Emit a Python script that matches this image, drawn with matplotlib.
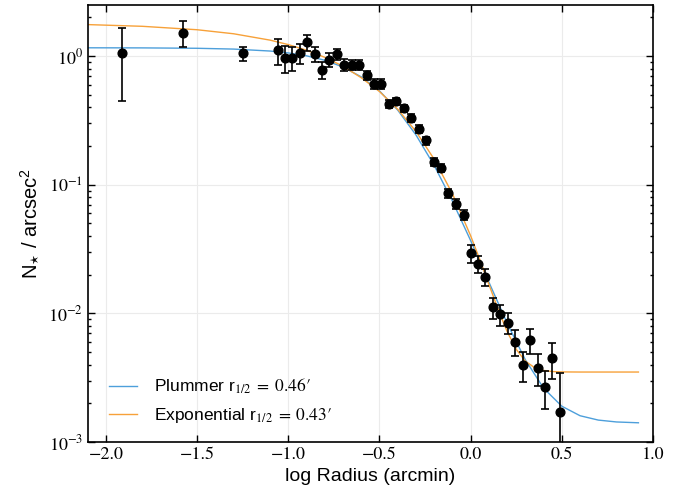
import numpy as np
import matplotlib
matplotlib.use('Agg')
import matplotlib.pyplot as plt

plt.rcParams['font.family'] = ['Liberation Sans', 'DejaVu Sans']
plt.rcParams['mathtext.fontset'] = 'stix'

# binned star counts (log radius in arcmin, density, error)
logr = [-1.911, -1.580, -1.246, -1.058, -1.016, -0.978, -0.938, -0.898, -0.855,
        -0.815, -0.775, -0.735, -0.693, -0.653, -0.613, -0.571, -0.531, -0.489,
        -0.449, -0.410, -0.366, -0.326, -0.284, -0.244, -0.202, -0.162, -0.122,
        -0.082, -0.039, 0.000, 0.040, 0.081, 0.123, 0.163, 0.203, 0.245, 0.285,
        0.327, 0.367, 0.407, 0.447, 0.490]
dens = [1.05, 1.52, 1.05, 1.11, 0.97, 0.97, 1.06, 1.28, 1.04,
        0.78, 0.94, 1.03, 0.86, 0.86, 0.86, 0.71, 0.61, 0.61,
        0.427, 0.445, 0.392, 0.33, 0.273, 0.221, 0.151, 0.136, 0.0863,
        0.0713, 0.0586, 0.0293, 0.0242, 0.0192, 0.01115, 0.00984, 0.00848, 0.00604, 0.00397,
        0.00621, 0.00379, 0.00268, 0.00448, 0.00171]
err = [0.60, 0.34, 0.13, 0.26, 0.225, 0.20, 0.19, 0.185, 0.145,
       0.12, 0.115, 0.10, 0.09, 0.08, 0.08, 0.06, 0.05, 0.05,
       0.03, 0.03, 0.027, 0.023, 0.019, 0.016, 0.011, 0.010, 0.007,
       0.006, 0.005, 0.0046, 0.0037, 0.003, 0.0021, 0.0018, 0.0016, 0.00135, 0.00105,
       0.0014, 0.00108, 0.00089, 0.0014, 0.00171]

# profile fits
plum_x = [-2.1, -1.8, -1.5, -1.3, -1.1, -1.0, -0.9, -0.8, -0.7, -0.6, -0.5, -0.4,
          -0.3, -0.2, -0.1, 0.0, 0.1, 0.2, 0.3, 0.4, 0.5, 0.6, 0.7, 0.8, 0.92]
plum_y = [1.1607, 1.1587, 1.1505, 1.1343, 1.0952, 1.0591, 1.0054, 0.9283, 0.8231,
          0.6897, 0.5363, 0.3806, 0.2439, 0.1411, 0.07456, 0.03678, 0.01749,
          0.008402, 0.004355, 0.002621, 0.001898, 0.001601, 0.001481, 0.001432, 0.001411]
expo_x = [-2.1, -1.8, -1.5, -1.3, -1.1, -1.0, -0.9, -0.8, -0.7, -0.6, -0.5, -0.4,
          -0.3, -0.2, -0.1, 0.0, 0.05, 0.1, 0.15, 0.2, 0.25, 0.3, 0.35, 0.4, 0.45,
          0.5, 0.6, 0.92]
expo_y = [1.7583, 1.7050, 1.6034, 1.4920, 1.3311, 1.2288, 1.1110, 0.9787, 0.8345,
          0.6791, 0.5305, 0.3864, 0.2596, 0.1579, 0.08511, 0.04008, 0.02622, 0.01682,
          0.01081, 0.007230, 0.005254, 0.004252, 0.003791, 0.003600, 0.003530,
          0.003508, 0.0035, 0.0035]

fig = plt.figure(figsize=(6.91, 4.93), dpi=100)
ax = fig.add_axes([0.127, 0.1034, 0.818, 0.8866])

ax.plot(plum_x, plum_y, color='#4d9fdb', lw=1.0,
        label="Plummer r$_{1/2}\\;=\\;0.46\u2032$")
ax.plot(expo_x, expo_y, color='#f7a139', lw=1.0,
        label="Exponential r$_{1/2}\\;=\\;0.43\u2032$")
ax.errorbar(logr, dens, yerr=err, fmt='o', color='black', ms=6.3, capsize=3,
            elinewidth=1.2, capthick=1.2, zorder=5)

ax.set_yscale('log')
ax.set_xlim(-2.1, 1.0)
ax.set_ylim(1e-3, 2.5)
ax.set_xticks([-2.0, -1.5, -1.0, -0.5, 0.0, 0.5, 1.0])
ax.set_xticklabels(['\u22122.0', '\u22121.5', '\u22121.0', '\u22120.5', '0.0', '0.5', '1.0'])
ax.grid(True, color='#ebebeb', lw=0.8)
ax.set_axisbelow(True)
ax.tick_params(which='both', direction='in', top=True, right=True, labelsize=13,
               labelfontfamily='STIXGeneral')
ax.tick_params(which='major', length=5, width=1)
ax.tick_params(which='minor', length=2.5, width=1)
for s in ax.spines.values():
    s.set_linewidth(1.2)

ax.set_xlabel('log Radius (arcmin)', fontsize=14)
ax.set_ylabel(r'N$_{\star}$ / arcsec$^{\mathregular{2}}$', fontsize=14.5)

ax.legend(loc='lower left', bbox_to_anchor=(0.007, 0.0), frameon=False, fontsize=12.5,
          handlelength=1.6, handletextpad=1.0, labelspacing=0.55, borderaxespad=0.6)

fig.savefig('out.png', dpi=100)
